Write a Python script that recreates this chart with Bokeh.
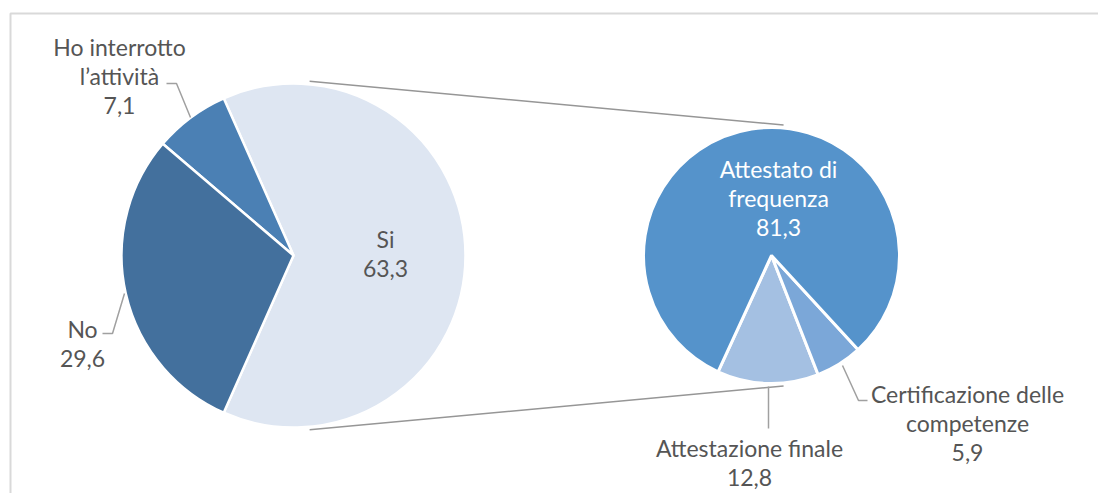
import math
from bokeh.plotting import figure
from bokeh.models import Range1d
from bokeh.embed import file_html
from bokeh.resources import INLINE
from bokeh.core.properties import value

# ---------------- data ----------------
main_labels = ["Si", "Ho interrotto\nl\u2019attività", "No"]
main_values = [63.3, 7.1, 29.6]
sub_labels = ["Attestazione finale", "Certificazione delle\ncompetenze", "Attestato di\nfrequenza"]
sub_values = [12.8, 5.9, 81.3]

main_colors = ["#dee6f2", "#4b80b4", "#43709d"]
sub_colors = ["#a4c0e2", "#7ba7d8", "#5593cb"]

W, H = 1098, 493
FONT = "Lato"
FS = "23px"
TXT = "#555555"
LEAD = "#a0a0a0"

def Y(ys):
    # screen y (pixels from window top) -> data y
    return H - ys

p = figure(width=W, height=H, output_backend="svg", toolbar_location=None,
           x_range=Range1d(0, W), y_range=Range1d(0, H), min_border=0)
p.axis.visible = False
p.grid.visible = False
p.outline_line_color = None
p.background_fill_color = "white"
p.border_fill_color = "white"

# frame (cropped at right and bottom)
p.quad(left=[10], right=[1110], top=[Y(13)], bottom=[Y(510)],
       fill_color=None, line_color="#d9d9d9", line_width=2)

# ---------------- primary pie ----------------
cx1, cy1, r1 = 293, 255, 172
cx2, cy2, r2 = 771, 255, 128

start = -main_values[0] / 100 * math.pi
a = start
for v, c in zip(main_values, main_colors):
    e = a + v / 100 * 2 * math.pi
    p.wedge(x=[cx1], y=[Y(cy1)], radius=r1, start_angle=a, end_angle=e,
            fill_color=c, line_color="white", line_width=2.5)
    a = e

# ---------------- secondary pie ----------------
a = math.radians(245.3)
for v, c in zip(sub_values, sub_colors):
    e = a + v / 100 * 2 * math.pi
    p.wedge(x=[cx2], y=[Y(cy2)], radius=r2, start_angle=a, end_angle=e,
            fill_color=c, line_color="white", line_width=3)
    a = e

# ---------------- connector lines (outer tangents) ----------------
d = cx2 - cx1
th = math.asin((r1 - r2) / d)
ang = math.pi / 2 - th
for sgn in (1, -1):
    x0 = cx1 + (r1 + 3) * math.cos(ang)
    y0 = Y(cy1) + sgn * (r1 + 3) * math.sin(ang)
    x1 = cx2 + (r2 + 3) * math.cos(ang)
    y1 = Y(cy2) + sgn * (r2 + 3) * math.sin(ang)
    p.line([x0, x1], [y0, y1], line_color="#969696", line_width=1.5)

# ---------------- leader lines ----------------
p.line([166, 176, 190], [Y(83), Y(83), Y(117)], line_color=LEAD, line_width=1.5)
p.line([102, 112, 124], [Y(333), Y(333), Y(293)], line_color=LEAD, line_width=1.5)
p.line([768, 768], [Y(386), Y(428)], line_color=LEAD, line_width=1.5)
p.line([842, 858, 867], [Y(365), Y(400), Y(400)], line_color=LEAD, line_width=1.5)

# ---------------- labels ----------------
def fmt(v):
    return f"{v:.1f}".replace(".", ",")

def label(x, y, lines, color=TXT):
    for i, t in enumerate(lines):
        p.text(x=[x], y=[Y(y + i * 29.5)], text=[t], text_align="center",
               text_baseline="middle", text_color=color,
               text_font=value(FONT), text_font_size=FS)

label(385, 238, [main_labels[0], fmt(main_values[0])])
label(119, 46, main_labels[1].split("\n") + [fmt(main_values[1])])
label(82, 328, [main_labels[2], fmt(main_values[2])])
label(778, 168, sub_labels[2].split("\n") + [fmt(sub_values[2])], color="white")
label(749, 447, [sub_labels[0], fmt(sub_values[0])])
label(967, 393, sub_labels[1].split("\n") + [fmt(sub_values[1])])

open("out.html", "w").write(file_html(p, INLINE))
